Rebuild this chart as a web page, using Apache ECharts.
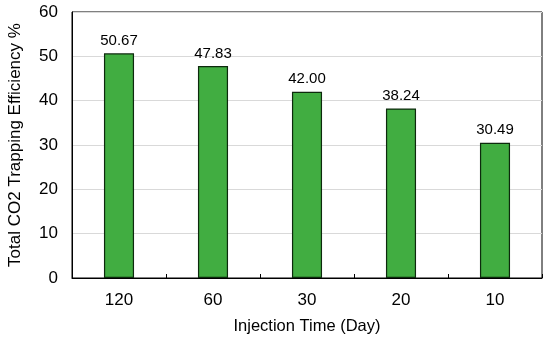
<!DOCTYPE html>
<html><head><meta charset="utf-8">
<script src="https://cdn.jsdelivr.net/npm/echarts@6/dist/echarts.min.js"></script>
<style>html,body{margin:0;padding:0;background:#fff}#c{width:550px;height:340px}</style>
</head><body><div id="c"></div>
<script>
const categories = ['120', '60', '30', '20', '10'];
const values = [50.67, 47.83, 42.00, 38.24, 30.49];
const yTicks = [0, 10, 20, 30, 40, 50, 60];

const chart = echarts.init(document.getElementById('c'), null, {renderer: 'canvas'});
chart.setOption({
  animation: false,
  backgroundColor: '#fff',
  grid: {left: 72, right: 8, top: 12, bottom: 62, show: true, borderColor: '#000', borderWidth: 1, backgroundColor: 'transparent', outerBoundsMode: 'none', containLabel: false},
  xAxis: {
    type: 'category', data: categories,
    name: 'Injection Time (Day)', nameLocation: 'middle', nameGap: 40,
    nameTextStyle: {fontFamily: 'Liberation Sans', fontSize: 16.5, color: '#000'},
    axisLine: {lineStyle: {color: '#000', width: 1}},
    axisTick: {show: true, inside: true, length: 4, alignWithLabel: false, lineStyle: {color: '#000'}},
    axisLabel: {fontFamily: 'Liberation Sans', fontSize: 17, color: '#000', margin: 14}
  },
  yAxis: {
    type: 'value', min: yTicks[0], max: yTicks[yTicks.length - 1], interval: 10,
    name: 'Total CO2 Trapping Efficiency %', nameLocation: 'middle', nameGap: 48,
    nameTextStyle: {fontFamily: 'Liberation Sans', fontSize: 17, color: '#000'},
    axisLine: {show: true, lineStyle: {color: '#000', width: 1}},
    axisTick: {show: false},
    axisLabel: {fontFamily: 'Liberation Sans', fontSize: 17, color: '#000', margin: 14},
    splitLine: {show: true, lineStyle: {color: '#d9d9d9', width: 1}}
  },
  series: [{
    type: 'bar', data: values, barWidth: '32%',
    itemStyle: {color: '#41AD41', borderColor: '#0d2a0d', borderWidth: 1.2},
    label: {show: true, position: 'top', distance: 5, formatter: p => p.value.toFixed(2),
      fontFamily: 'Liberation Sans', fontSize: 15, color: '#000'}
  }]
});
</script></body></html>
